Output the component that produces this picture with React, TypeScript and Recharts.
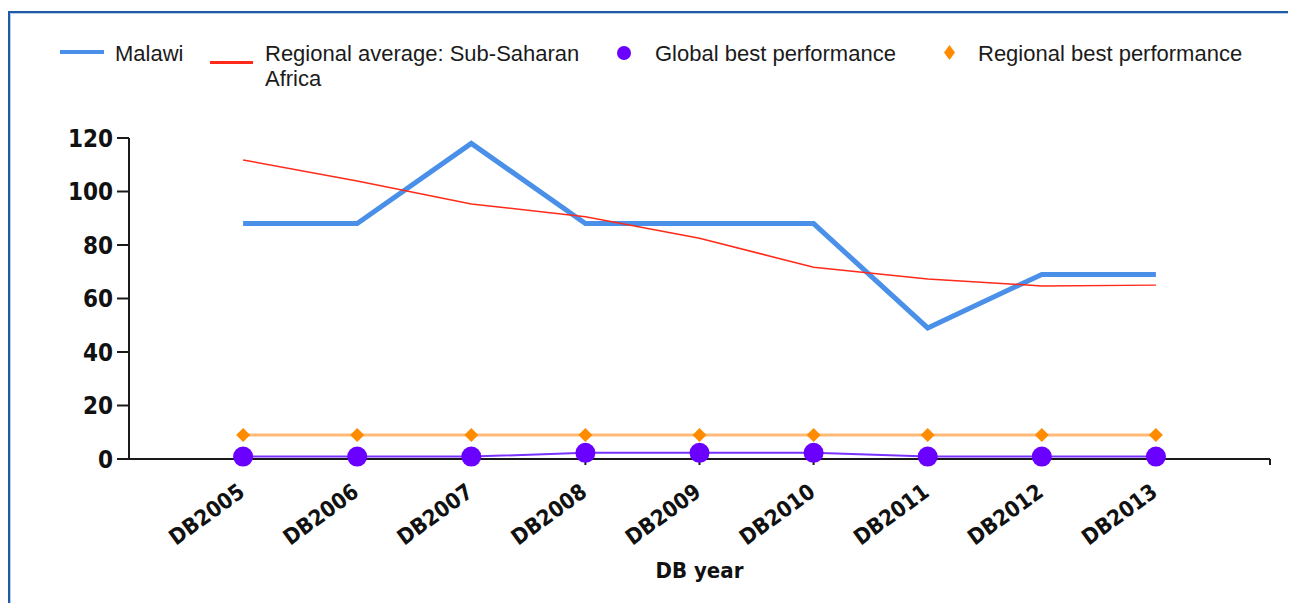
import React from 'react';
import { LineChart, Line, XAxis, YAxis } from 'recharts';

const categories = ['DB2005', 'DB2006', 'DB2007', 'DB2008', 'DB2009', 'DB2010', 'DB2011', 'DB2012', 'DB2013'];
const malawi = [88, 88, 118, 88, 88, 88, 49, 69, 69];
const regionalAverage = [111.8, 103.9, 95.3, 90.6, 82.5, 71.7, 67.3, 64.7, 65];
const globalBest = [0.9, 0.9, 0.9, 2.3, 2.3, 2.3, 0.9, 0.9, 0.9];
const regionalBest = [9, 9, 9, 9, 9, 9, 9, 9, 9];
const yTicks = [0, 20, 40, 60, 80, 100, 120];

const data = categories.map((name, i) => ({
  idx: i + 1,
  name,
  malawi: malawi[i],
  regionalAverage: regionalAverage[i],
  globalBest: globalBest[i],
  regionalBest: regionalBest[i],
}));

const axisFont = '"DejaVu Sans Condensed", "DejaVu Sans", sans-serif';
const legendFont = '"Liberation Sans", Arial, sans-serif';

const XTick = (props: any) => {
  const { x, y, payload } = props;
  const label = categories[payload.value - 1];
  if (!label) return null;
  return (
    <g transform={`translate(${x + 3},${y + 28}) rotate(-36)`}>
      <text x={0} y={0} textAnchor="end" fontFamily={axisFont} fontWeight="bold" fontSize={22} fill="#111">
        {label}
      </text>
    </g>
  );
};

const Diamond = (props: any) => {
  const { cx, cy } = props;
  if (cx == null || cy == null) return null;
  return <polygon points={`${cx},${cy - 7} ${cx + 7},${cy} ${cx},${cy + 7} ${cx - 7},${cy}`} fill="#ff8c00" />;
};

const Legend = () => {
  const text: React.CSSProperties = {
    position: 'absolute',
    top: 33,
    fontFamily: legendFont,
    fontSize: 22,
    lineHeight: '25px',
    color: '#1b1b1b',
  };
  return (
    <>
      <div style={{ position: 'absolute', left: 52, top: 42, width: 44, height: 4, background: '#4a90e8' }} />
      <div style={{ ...text, left: 107 }}>Malawi</div>
      <div style={{ position: 'absolute', left: 202, top: 53, width: 43, height: 3, background: '#ff2a1a' }} />
      <div style={{ ...text, left: 257, width: 330 }}>Regional average: Sub-Saharan Africa</div>
      <div style={{ position: 'absolute', left: 609, top: 38, width: 14, height: 14, borderRadius: 7, background: '#6a00ff' }} />
      <div style={{ ...text, left: 647 }}>Global best performance</div>
      <svg style={{ position: 'absolute', left: 936, top: 37 }} width={11} height={15}>
        <polygon points="5.5,0 11,7.5 5.5,15 0,7.5" fill="#ff8c00" />
      </svg>
      <div style={{ ...text, left: 970 }}>Regional best performance</div>
    </>
  );
};

export default function App() {
  return (
    <div style={{ position: 'relative', width: 1288, height: 595, overflow: 'hidden' }}>
      <div
        style={{
          position: 'absolute',
          left: 0,
          top: 3,
          width: 1400,
          height: 700,
          borderTop: '2px solid #1f5ba6',
          borderLeft: '2px solid #1f5ba6',
          boxShadow: 'inset 1px 1px 0 #b5cde9',
        }}
      />
      <Legend />
      <div style={{ position: 'absolute', left: 0, top: 0 }}>
        <LineChart width={1288} height={595} data={data} margin={{ top: 130, right: 26, bottom: 0, left: 0 }}>
          <XAxis
            dataKey="idx"
            type="number"
            domain={[0, 10]}
            ticks={[1, 2, 3, 4, 5, 6, 7, 8, 9, 10]}
            height={144}
            tickSize={6}
            tickMargin={2}
            tick={<XTick />}
            axisLine={{ stroke: '#1a1a1a', strokeWidth: 2 }}
            tickLine={{ stroke: '#1a1a1a', strokeWidth: 2 }}
            label={{
              value: 'DB year',
              position: 'insideBottom',
              offset: 25,
              style: { fontFamily: axisFont, fontWeight: 'bold', fontSize: 22, fill: '#111' },
            }}
          />
          <YAxis
            domain={[0, 120]}
            ticks={yTicks}
            width={121}
            tickSize={12}
            tickMargin={4}
            axisLine={{ stroke: '#1a1a1a', strokeWidth: 2 }}
            tickLine={{ stroke: '#1a1a1a', strokeWidth: 2 }}
            tick={{ fontFamily: axisFont, fontWeight: 'bold', fontSize: 24, fill: '#111' }}
          />
          <Line
            dataKey="regionalBest"
            stroke="#ffbb77"
            strokeWidth={3}
            dot={<Diamond />}
            isAnimationActive={false}
          />
          <Line
            dataKey="globalBest"
            stroke="#7a33ff"
            strokeWidth={2}
            dot={{ r: 10, fill: '#6a00ff', stroke: 'none' }}
            isAnimationActive={false}
          />
          <Line dataKey="malawi" stroke="#4a90e8" strokeWidth={5} dot={false} isAnimationActive={false} />
          <Line
            dataKey="regionalAverage"
            stroke="#ff2a1a"
            strokeWidth={1.5}
            dot={false}
            isAnimationActive={false}
          />
        </LineChart>
      </div>
    </div>
  );
}
